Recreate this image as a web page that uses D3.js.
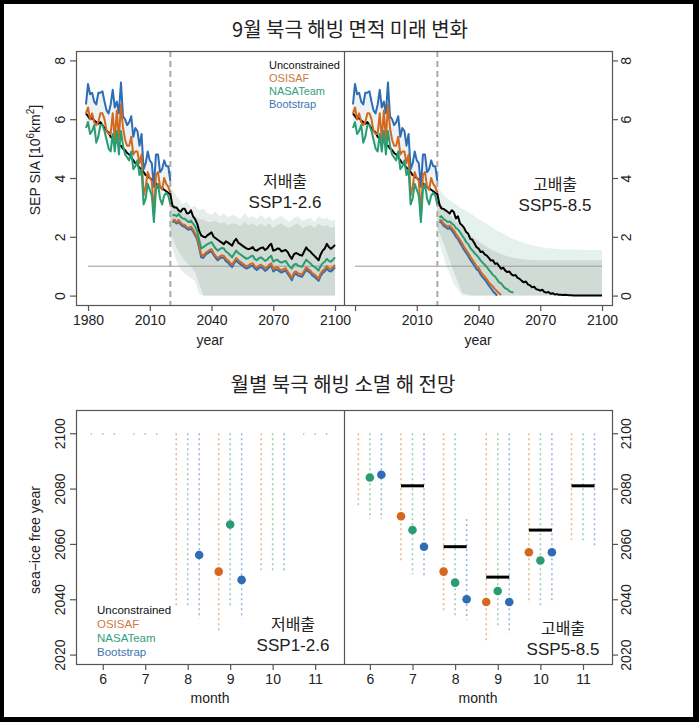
<!DOCTYPE html>
<html><head><meta charset="utf-8">
<script src="https://cdn.jsdelivr.net/npm/d3@7/dist/d3.min.js"></script>
<style>body{margin:0;background:#000}svg{display:block}</style></head>
<body><svg id="c" width="699" height="722"></svg>
<script>
// ---------------- DATA ----------------
const histYears = d3.range(1979, 2021);   // 1979..2020
const futYears = d3.range(2021, 2101);    // 2021..2100

const bootHist = [6.5,7.2,6.85,6.9,6.6,6.5,6.9,6.9,6.95,6.6,6.3,6.2,6.5,7.0,6.4,6.6,6.2,7.25,6.1,6.0,5.8,5.9,6.1,5.4,5.7,5.6,5.1,5.5,4.3,4.5,4.9,4.6,4.5,3.7,4.8,4.8,4.2,4.3,4.6,4.4,4.4,3.9];
const osisafHist = [6.2,6.4,6.0,6.2,5.9,5.8,5.9,6.2,6.2,6.0,5.6,5.5,5.5,6.2,5.3,6.3,5.3,6.5,5.7,5.3,5.1,5.1,5.4,4.8,4.9,4.9,4.5,4.8,3.4,3.7,4.2,4.0,3.9,2.7,4.1,4.2,3.7,3.6,4.0,3.8,3.7,3.5];
const nasaHist = [5.7,5.9,5.5,5.6,5.8,5.2,5.4,5.8,5.8,5.6,5.3,5.0,4.9,5.5,4.9,5.6,4.8,5.6,5.1,4.8,4.7,4.6,4.9,4.3,4.4,4.6,4.1,4.3,3.1,3.3,3.8,3.6,3.4,2.5,3.6,3.8,3.3,3.1,3.4,3.5,3.4,3.1];
const unconHist = [6.2,6.1,6.0,6.05,5.95,5.9,5.85,5.9,5.8,5.7,5.6,5.55,5.4,5.35,5.3,5.25,5.1,5.1,5.0,4.95,4.85,4.8,4.7,4.6,4.5,4.45,4.35,4.3,4.2,4.1,4.05,4.0,3.95,3.85,3.8,3.75,3.7,3.65,3.6,3.55,3.5,3.45];

// SSP1-2.6 projections 2021..2100
const uncon126 = [3.05,3.0,3.0,2.9,2.85,2.95,2.95,2.8,2.8,2.9,2.7,2.6,2.45,2.2,2.05,2.0,1.98,2.05,2.1,2.15,2.0,1.95,1.9,1.85,1.8,1.75,1.85,1.8,1.75,1.7,1.85,1.93,1.8,1.75,1.7,1.65,1.6,1.58,1.6,1.65,1.55,1.53,1.58,1.62,1.64,1.55,1.6,1.7,1.76,1.53,1.55,1.6,1.59,1.5,1.53,1.55,1.48,1.35,1.25,1.4,1.45,1.42,1.38,1.36,1.5,1.64,1.55,1.5,1.42,1.35,1.28,1.2,1.4,1.53,1.6,1.76,1.65,1.59,1.65,1.72];
const nasa126 = [2.72,2.75,2.7,2.78,2.68,2.62,2.61,2.55,2.5,2.55,2.45,2.35,2.2,1.9,1.6,1.65,1.7,1.75,1.78,1.82,1.7,1.6,1.53,1.58,1.62,1.6,1.5,1.45,1.38,1.3,1.42,1.53,1.45,1.4,1.35,1.3,1.25,1.28,1.33,1.36,1.25,1.2,1.27,1.3,1.25,1.18,1.22,1.3,1.35,1.15,1.2,1.22,1.15,1.12,1.15,1.18,1.08,0.98,0.92,1.05,1.08,1.02,1.0,0.98,1.1,1.22,1.15,1.1,1.02,0.98,0.92,0.85,1.0,1.1,1.15,1.25,1.18,1.15,1.22,1.3];
const osisaf126 = [2.55,2.58,2.5,2.57,2.48,2.42,2.4,2.33,2.3,2.35,2.25,2.12,2.0,1.7,1.4,1.35,1.45,1.5,1.55,1.58,1.45,1.35,1.28,1.33,1.37,1.35,1.25,1.2,1.12,1.05,1.17,1.28,1.2,1.15,1.1,1.04,1.0,1.03,1.08,1.1,1.0,0.95,1.02,1.05,1.0,0.92,0.96,1.05,1.1,0.9,0.95,0.97,0.9,0.86,0.9,0.93,0.82,0.72,0.6,0.78,0.82,0.76,0.74,0.72,0.84,0.96,0.9,0.85,0.76,0.72,0.65,0.58,0.75,0.85,0.9,1.0,0.92,0.9,0.96,1.04];
const boot126 = [2.5,2.52,2.45,2.5,2.42,2.36,2.34,2.27,2.24,2.28,2.18,2.05,1.92,1.62,1.3,1.28,1.38,1.43,1.48,1.5,1.38,1.28,1.2,1.26,1.3,1.28,1.17,1.12,1.04,0.97,1.1,1.2,1.12,1.07,1.02,0.96,0.92,0.95,1.0,1.02,0.92,0.87,0.94,0.97,0.92,0.84,0.88,0.97,1.02,0.82,0.87,0.89,0.82,0.78,0.82,0.85,0.74,0.64,0.52,0.7,0.74,0.68,0.66,0.64,0.76,0.88,0.82,0.77,0.68,0.64,0.57,0.5,0.67,0.77,0.82,0.92,0.84,0.82,0.88,0.96];

// SSP5-8.5 projections 2021..2100 (missing = not drawn after reaching zero)
const uncon585 = [3.1,2.96,2.95,2.9,2.85,2.79,2.9,2.84,2.62,2.7,2.45,2.39,2.3,2.16,2.1,1.93,1.9,1.78,1.65,1.6,1.48,1.5,1.4,1.36,1.28,1.19,1.2,1.08,1.1,1.0,0.91,0.95,0.85,0.8,0.82,0.72,0.68,0.7,0.6,0.57,0.5,0.45,0.48,0.38,0.35,0.28,0.3,0.22,0.2,0.17,0.2,0.12,0.1,0.12,0.06,0.08,0.04,0.05,0.03,0.03,0.02,0.03,0.02,0.01,0.01,0,0,0,0,0,0,0,0,0,0,0,0,0,0,0];
const nasa585 = [2.67,2.7,2.6,2.56,2.5,2.52,2.45,2.4,2.3,2.25,2.16,2.05,1.95,1.82,1.75,1.62,1.54,1.45,1.38,1.3,1.2,1.12,1.05,0.97,0.88,0.8,0.7,0.65,0.55,0.45,0.42,0.32,0.25,0.22,0.15,0.12,0.1];
const osisaf585 = [2.58,2.55,2.45,2.4,2.35,2.38,2.3,2.22,2.1,2.0,1.9,1.78,1.65,1.55,1.45,1.32,1.22,1.12,1.0,0.95,0.82,0.72,0.65,0.55,0.45,0.38,0.3,0.22,0.15,0.08,0.02];
const boot585 = [2.52,2.48,2.38,2.33,2.27,2.3,2.22,2.12,2.0,1.92,1.8,1.68,1.55,1.45,1.35,1.22,1.12,1.02,0.9,0.85,0.72,0.62,0.55,0.45,0.35,0.25,0.15,0.08,0.0];

// Spread envelopes (SSP1-2.6 every 2 years, SSP5-8.5 every 4 years)
const env126Years = d3.range(2020, 2101, 2);
const env126OuterHi = [3.7,3.5,3.3,3.1,3.2,3.0,3.05,2.9,2.95,2.8,2.75,2.85,2.7,2.8,2.65,2.75,2.7,2.6,2.8,2.65,2.7,2.6,2.75,2.6,2.7,2.55,2.65,2.7,2.6,2.5,2.65,2.7,2.55,2.6,2.65,2.5,2.7,2.6,2.65,2.55,2.6];
const env126OuterLo = [1.9,1.4,1.0,0.8,0.7,0.6,0.5,0.05,0,0,0,0,0,0,0,0,0,0,0,0,0,0,0,0,0,0,0,0,0,0,0,0,0,0,0,0,0,0,0,0,0];
const env126InnerHi = [3.3,3.1,2.95,2.8,2.85,2.7,2.7,2.6,2.6,2.5,2.5,2.55,2.45,2.5,2.4,2.45,2.45,2.35,2.5,2.4,2.45,2.35,2.45,2.35,2.45,2.3,2.4,2.45,2.35,2.3,2.4,2.45,2.3,2.35,2.4,2.3,2.45,2.35,2.4,2.3,2.35];
const env126InnerLo = [2.2,1.8,1.5,1.3,1.1,1.0,0.8,0.4,0,0,0,0,0,0,0,0,0,0,0,0,0,0,0,0,0,0,0,0,0,0,0,0,0,0,0,0,0,0,0,0,0];
const env585Years = d3.range(2020, 2101, 4);
const env585OuterHi = [3.7,3.35,3.15,2.95,2.8,2.6,2.45,2.25,2.1,1.95,1.85,1.75,1.68,1.62,1.6,1.58,1.57,1.56,1.55,1.55,1.55];
const env585OuterLo = [2.0,1.1,0.4,0,0,0,0,0,0,0,0,0,0,0,0,0,0,0,0,0,0];
const env585InnerHi = [3.3,2.9,2.6,2.3,2.05,1.85,1.65,1.5,1.38,1.3,1.25,1.22,1.2,1.2,1.2,1.2,1.2,1.2,1.2,1.2,1.2];
const env585InnerLo = [2.3,1.6,0.8,0.1,0,0,0,0,0,0,0,0,0,0,0,0,0,0,0,0,0];

// Sea-ice free year by month
const months = [6,7,8,9,10,11];
// SSP1-2.6
const osisafLow126 = [2100,2100,2037,2028,2050,2100];
const nasaLow126   = [2100,2100,2037,2037,2050,2100];
const bootLow126   = [2100,2100,2033,2033,2050,2100];
const osisafHigh126 = [2100,2100,2100,2100,2100,2100];
const nasaHigh126   = [2100,2100,2100,2100,2100,2100];
const bootHigh126   = [2100,2100,2100,2100,2100,2100];
const osisafMed126 = [null,null,null,2050,null,null];
const nasaMed126   = [null,null,null,2067,null,null];
const bootMed126   = [null,null,2056,2047,null,null];
const unconMed126  = [null,null,null,null,null,null];
// SSP5-8.5
const osisafLow585 = [2073,2053,2035,2024.5,2038.5,2061.5];
const nasaLow585   = [2069,2049,2033.5,2030,2037.7,2060.6];
const bootLow585   = [2069,2048,2032.7,2027.6,2038.6,2059.5];
const osisafHigh585 = [2100,2100,2100,2100,2100,2100];
const nasaHigh585   = [2100,2100,2100,2100,2100,2100];
const bootHigh585   = [2100,2100,2069,2100,2100,2100];
const osisafMed585 = [null,2070,2050,2039,2057,null];
const nasaMed585   = [2084,2065,2046,2043,2054,null];
const bootMed585   = [2085,2059,2040,2039,2057,null];
const unconMed585  = [null,2081,2059,2048,2065,2081];

const legendLabels = ["Unconstrained","OSISAF","NASATeam","Bootstrap"];
const topTicksY = [0,2,4,6,8];
const topTicksX = [1980,2010,2040,2070,2100];
const botTicksY = [2020,2040,2060,2080,2100];

// ---------------- STYLE ----------------
const C = {uncon:"#000000", osisaf:"#D2691E", nasa:"#2A9D70", boot:"#2E6DB4"};
const legendColors = ["#111111","#CD7A3E","#34A07A","#3D74B0"];
const numFont = "'Liberation Sans', Arial, sans-serif";
const krFont = "'Noto Sans CJK KR', 'Noto Sans', sans-serif";

const svg = d3.select("#c");
svg.append("rect").attr("width",699).attr("height",722).attr("fill","#000");
svg.append("rect").attr("x",4).attr("y",4).attr("width",689).attr("height",713).attr("fill","#fff");

// ---------------- TOP PANELS ----------------
const yT = d3.scaleLinear().domain([-0.32,8.32]).range([305,51]);
const xTL = d3.scaleLinear().domain([1974.16,2104.84]).range([76,345]);
const xTR = d3.scaleLinear().domain([1974.16,2104.84]).range([343,612]);

function band(g, x, years, lo, hi, fill, op){
  const data = years.map((yr,i)=>({yr, lo:lo[i], hi:hi[i]}));
  g.append("path").datum(data)
    .attr("d", d3.area().x(d=>x(d.yr)).y0(d=>yT(d.lo)).y1(d=>yT(d.hi)))
    .attr("fill", fill).attr("opacity", op);
}
function series(g, x, years, vals, color, w){
  const data = years.map((yr,i)=>({yr, v: i<vals.length ? vals[i] : null}));
  g.append("path").datum(data)
    .attr("d", d3.line().defined(d=>d.v!=null).x(d=>x(d.yr)).y(d=>yT(d.v)))
    .attr("fill","none").attr("stroke",color).attr("stroke-width",w)
    .attr("stroke-linejoin","round");
}

function topPanel(x, proj, env){
  const g = svg.append("g");
  const hb = histYears.map((yr,i)=>({yr, lo:d3.min([nasaHist[i],osisafHist[i],bootHist[i]]), hi:d3.max([nasaHist[i],osisafHist[i],bootHist[i]])}));
  g.append("path").datum(hb)
    .attr("d", d3.area().x(d=>x(d.yr)).y0(d=>yT(d.lo)).y1(d=>yT(d.hi)))
    .attr("fill","#e4eaee").attr("opacity",0.6);
  band(g, x, env.years, env.oLo, env.oHi, env.oColor, 0.9);
  band(g, x, env.years, env.iLo, env.iHi, "#cdd8d3", 0.9);
  g.append("line").attr("x1",x(1980)).attr("x2",x(2100)).attr("y1",yT(1)).attr("y2",yT(1))
    .attr("stroke","#9a9a9a").attr("stroke-width",1);
  g.append("line").attr("x1",x(2020)).attr("x2",x(2020)).attr("y1",51).attr("y2",305)
    .attr("stroke","#aaaaaa").attr("stroke-width",2).attr("stroke-dasharray","6,4");
  series(g, x, histYears.concat(futYears), unconHist.concat(proj.uncon), C.uncon, 2);
  series(g, x, histYears, bootHist, C.boot, 2);
  series(g, x, histYears, osisafHist, C.osisaf, 2);
  series(g, x, histYears, nasaHist, C.nasa, 2);
  series(g, x, futYears, proj.boot, C.boot, 2);
  series(g, x, futYears, proj.osisaf, C.osisaf, 2);
  series(g, x, futYears, proj.nasa, C.nasa, 2);
}

topPanel(xTL, {uncon:uncon126, osisaf:osisaf126, nasa:nasa126, boot:boot126},
  {years:env126Years, oLo:env126OuterLo, oHi:env126OuterHi, iLo:env126InnerLo, iHi:env126InnerHi, oColor:"#e4ebe8"});
topPanel(xTR, {uncon:uncon585, osisaf:osisaf585, nasa:nasa585, boot:boot585},
  {years:env585Years, oLo:env585OuterLo, oHi:env585OuterHi, iLo:env585InnerLo, iHi:env585InnerHi, oColor:"#e2efeb"});

function frame(x0,x1,y0,y1,mid){
  svg.append("rect").attr("x",x0+0.5).attr("y",y0+0.5).attr("width",x1-x0).attr("height",y1-y0)
    .attr("fill","none").attr("stroke","#555").attr("stroke-width",1.2);
  svg.append("line").attr("x1",mid+0.5).attr("x2",mid+0.5).attr("y1",y0).attr("y2",y1)
    .attr("stroke","#555").attr("stroke-width",1.2);
}
frame(76,612,51,305,344);

function styleAxis(g){
  g.select(".domain").remove();
  g.selectAll(".tick line").attr("stroke","#555").attr("stroke-width",1.2);
  g.selectAll("text").attr("font-family",numFont).attr("font-size",14).attr("fill","#222");
}
function rotLabels(g, off){
  g.selectAll(".tick text").attr("transform","rotate(-90)").attr("x",0).attr("y",off)
    .attr("dy",0).attr("text-anchor","middle");
}

let ax = svg.append("g").attr("transform","translate(0,305)")
  .call(d3.axisBottom(xTL).tickValues(topTicksX).tickFormat(d3.format("d")).tickSize(6).tickPadding(4));
styleAxis(ax);
ax = svg.append("g").attr("transform","translate(0,305)")
  .call(d3.axisBottom(xTR).tickValues(topTicksX).tickFormat(d=> d===1980 ? "" : d3.format("d")(d)).tickSize(6).tickPadding(4));
styleAxis(ax);
ax = svg.append("g").attr("transform","translate(76,0)")
  .call(d3.axisLeft(yT).tickValues(topTicksY).tickFormat(d3.format("d")).tickSize(6));
styleAxis(ax); rotLabels(ax,-11);
ax = svg.append("g").attr("transform","translate(612,0)")
  .call(d3.axisRight(yT).tickValues(topTicksY).tickFormat(d3.format("d")).tickSize(6));
styleAxis(ax); rotLabels(ax,19);

svg.append("text").attr("x",350).attr("y",37).attr("text-anchor","middle")
  .attr("font-family",krFont).attr("font-size",20).attr("fill","#222").text("9월 북극 해빙 면적 미래 변화");
svg.append("text").attr("x",210).attr("y",345).attr("text-anchor","middle")
  .attr("font-family",numFont).attr("font-size",14).attr("fill","#222").text("year");
svg.append("text").attr("x",478).attr("y",345).attr("text-anchor","middle")
  .attr("font-family",numFont).attr("font-size",14).attr("fill","#222").text("year");
const yl = svg.append("text").attr("transform","translate(40,160) rotate(-90)").attr("text-anchor","middle")
  .attr("font-family",numFont).attr("font-size",14).attr("fill","#222");
yl.append("tspan").text("SEP SIA [10");
yl.append("tspan").attr("font-size",10).attr("dy",-6).text("6");
yl.append("tspan").attr("dy",6).text("km");
yl.append("tspan").attr("font-size",10).attr("dy",-6).text("2");
yl.append("tspan").attr("dy",6).text("]");

legendLabels.forEach((t,i)=>{
  svg.append("text").attr("x",269).attr("y",69+i*13).attr("font-family",numFont).attr("font-size",11)
    .attr("fill",legendColors[i]).text(t);
});
function scen(x,y,a,b){
  svg.append("text").attr("x",x).attr("y",y).attr("text-anchor","middle").attr("font-family",krFont)
    .attr("font-size",16).attr("fill","#222").text(a);
  svg.append("text").attr("x",x).attr("y",y+21).attr("text-anchor","middle").attr("font-family",numFont)
    .attr("font-size",17).attr("fill","#222").text(b);
}
scen(285,187,"저배출","SSP1-2.6");
scen(555,190,"고배출","SSP5-8.5");

// ---------------- BOTTOM PANELS ----------------
const yB = d3.scaleLinear().domain([2016.6,2108.4]).range([664,410]);
const xBL = d3.scaleLinear().domain([5.37,11.68]).range([76,344]);
const xBR = d3.scaleLinear().domain([5.37,11.68]).range([343,612]);
const offs = {osisaf:-0.27, nasa:0, boot:0.27};

function botPanel(x, d){
  const g = svg.append("g");
  ["osisaf","nasa","boot"].forEach(k=>{
    months.forEach((m,i)=>{
      const lo = d[k+"Low"][i], hi = d[k+"High"][i];
      const y1 = yB(hi), y2 = Math.max(yB(lo), y1+1.5);
      g.append("line").attr("x1",x(m+offs[k])).attr("x2",x(m+offs[k])).attr("y1",y1).attr("y2",y2)
        .attr("stroke",C[k]).attr("stroke-opacity",0.5).attr("stroke-width",1.5)
        .attr("stroke-dasharray","2,3");
    });
  });
  months.forEach((m,i)=>{
    const v = d.unconMed[i];
    if(v!=null) g.append("line").attr("x1",x(m-0.27)).attr("x2",x(m+0.27)).attr("y1",yB(v)).attr("y2",yB(v))
      .attr("stroke","#000").attr("stroke-width",3);
  });
  ["osisaf","nasa","boot"].forEach(k=>{
    months.forEach((m,i)=>{
      const v = d[k+"Med"][i];
      if(v!=null) g.append("circle").attr("cx",x(m+offs[k])).attr("cy",yB(v)).attr("r",4.3).attr("fill",C[k]);
    });
  });
}
botPanel(xBL, {osisafLow:osisafLow126, nasaLow:nasaLow126, bootLow:bootLow126,
  osisafHigh:osisafHigh126, nasaHigh:nasaHigh126, bootHigh:bootHigh126,
  osisafMed:osisafMed126, nasaMed:nasaMed126, bootMed:bootMed126, unconMed:unconMed126});
botPanel(xBR, {osisafLow:osisafLow585, nasaLow:nasaLow585, bootLow:bootLow585,
  osisafHigh:osisafHigh585, nasaHigh:nasaHigh585, bootHigh:bootHigh585,
  osisafMed:osisafMed585, nasaMed:nasaMed585, bootMed:bootMed585, unconMed:unconMed585});

frame(76,612,410,664,344);

ax = svg.append("g").attr("transform","translate(0,664)")
  .call(d3.axisBottom(xBL).tickValues(months).tickFormat(d3.format("d")).tickSize(6).tickPadding(4));
styleAxis(ax);
ax = svg.append("g").attr("transform","translate(0,664)")
  .call(d3.axisBottom(xBR).tickValues(months).tickFormat(d3.format("d")).tickSize(6).tickPadding(4));
styleAxis(ax);
ax = svg.append("g").attr("transform","translate(76,0)")
  .call(d3.axisLeft(yB).tickValues(botTicksY).tickFormat(d3.format("d")).tickSize(6));
styleAxis(ax); rotLabels(ax,-11);
ax = svg.append("g").attr("transform","translate(612,0)")
  .call(d3.axisRight(yB).tickValues(botTicksY).tickFormat(d3.format("d")).tickSize(6));
styleAxis(ax); rotLabels(ax,19);

svg.append("text").attr("x",343).attr("y",392).attr("text-anchor","middle")
  .attr("font-family",krFont).attr("font-size",20).attr("fill","#222").text("월별 북극 해빙 소멸 해 전망");
svg.append("text").attr("x",210).attr("y",703).attr("text-anchor","middle")
  .attr("font-family",numFont).attr("font-size",14).attr("fill","#222").text("month");
svg.append("text").attr("x",478).attr("y",703).attr("text-anchor","middle")
  .attr("font-family",numFont).attr("font-size",14).attr("fill","#222").text("month");
svg.append("text").attr("transform","translate(40,540) rotate(-90)").attr("text-anchor","middle")
  .attr("font-family",numFont).attr("font-size",14).attr("fill","#222").text("sea\u2212ice free year");

legendLabels.forEach((t,i)=>{
  svg.append("text").attr("x",97).attr("y",614+i*14).attr("font-family",numFont).attr("font-size",11.5)
    .attr("fill",legendColors[i]).text(t);
});
scen(293,630,"저배출","SSP1-2.6");
scen(563,634,"고배출","SSP5-8.5");
</script></body></html>
